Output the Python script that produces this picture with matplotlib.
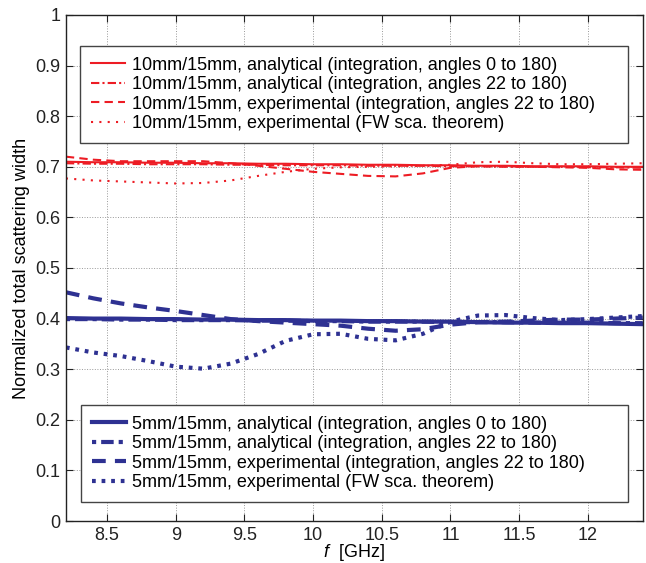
import matplotlib
matplotlib.use("Agg")
import matplotlib.pyplot as plt

plt.rcParams['font.family'] = ['Liberation Sans', 'DejaVu Sans']
plt.rcParams['mathtext.fontset'] = 'custom'
plt.rcParams['mathtext.it'] = 'Liberation Sans:italic'
plt.rcParams['mathtext.rm'] = 'Liberation Sans'

# frecuencias [GHz]
f = [8.2, 8.4, 8.6, 8.8, 9.0, 9.2, 9.4, 9.6, 9.8, 10.0, 10.2,
     10.4, 10.6, 10.8, 11.0, 11.2, 11.4, 11.6, 11.8, 12.0, 12.2, 12.4]

# 10mm/15mm
r_an_0 = [0.710, 0.709, 0.709, 0.708, 0.708, 0.707, 0.707, 0.706, 0.706, 0.705, 0.705,
          0.704, 0.704, 0.703, 0.703, 0.702, 0.702, 0.701, 0.701, 0.701, 0.700, 0.700]
r_an_22 = [0.707, 0.706, 0.706, 0.705, 0.705, 0.705, 0.704, 0.704, 0.703, 0.703, 0.703,
           0.702, 0.702, 0.702, 0.701, 0.701, 0.700, 0.700, 0.700, 0.699, 0.699, 0.698]
r_exp_int = [0.720, 0.714, 0.711, 0.711, 0.711, 0.711, 0.707, 0.702, 0.696, 0.690, 0.686,
             0.682, 0.681, 0.687, 0.698, 0.701, 0.701, 0.700, 0.699, 0.698, 0.695, 0.694]
r_exp_fw = [0.677, 0.673, 0.671, 0.669, 0.667, 0.668, 0.673, 0.682, 0.690, 0.696, 0.699,
            0.700, 0.701, 0.702, 0.704, 0.709, 0.710, 0.707, 0.705, 0.705, 0.706, 0.707]

# 5mm/15mm
b_an_0 = [0.401, 0.400, 0.400, 0.399, 0.399, 0.398, 0.398, 0.397, 0.397, 0.396, 0.396,
          0.395, 0.395, 0.394, 0.394, 0.393, 0.392, 0.392, 0.391, 0.391, 0.390, 0.389]
b_an_22 = [0.399, 0.399, 0.398, 0.398, 0.397, 0.397, 0.397, 0.396, 0.396, 0.395, 0.395,
           0.394, 0.394, 0.394, 0.393, 0.393, 0.393, 0.392, 0.392, 0.392, 0.391, 0.391]
b_exp_int = [0.452, 0.440, 0.430, 0.422, 0.415, 0.407, 0.399, 0.395, 0.392, 0.389, 0.386,
             0.380, 0.376, 0.379, 0.388, 0.393, 0.394, 0.396, 0.398, 0.398, 0.400, 0.402]
b_exp_fw = [0.343, 0.333, 0.326, 0.316, 0.305, 0.301, 0.311, 0.330, 0.356, 0.369, 0.370,
            0.360, 0.357, 0.370, 0.394, 0.406, 0.407, 0.401, 0.397, 0.399, 0.402, 0.405]

etiquetas_r = ["10mm/15mm, analytical (integration, angles 0 to 180)",
               "10mm/15mm, analytical (integration, angles 22 to 180)",
               "10mm/15mm, experimental (integration, angles 22 to 180)",
               "10mm/15mm, experimental (FW sca. theorem)"]
etiquetas_b = ["5mm/15mm, analytical (integration, angles 0 to 180)",
               "5mm/15mm, analytical (integration, angles 22 to 180)",
               "5mm/15mm, experimental (integration, angles 22 to 180)",
               "5mm/15mm, experimental (FW sca. theorem)"]

rojo = '#ed1c24'
azul = '#2e3192'
FS = 13

fig = plt.figure(figsize=(6.46, 5.63), dpi=100)
ax = fig.add_axes([0.102, 0.0746, 0.893, 0.8988])

estilos_r = ['-', (0, (4, 1.5, 1, 1.5)), (0, (4, 2.5)), (0, (1, 3))]
lineas_r = []
for y, ls, lab in zip([r_an_0, r_an_22, r_exp_int, r_exp_fw], estilos_r, etiquetas_r):
    l, = ax.plot(f, y, color=rojo, lw=1.5, ls=ls, label=lab)
    lineas_r.append(l)

estilos_b = ['-', (0, (1, 1.2, 3, 1.2)), (0, (3.3, 2.2)), (0, (0.9, 1.4))]
lineas_b = []
for y, ls, lab in zip([b_an_0, b_an_22, b_exp_int, b_exp_fw], estilos_b, etiquetas_b):
    l, = ax.plot(f, y, color=azul, lw=3, ls=ls, label=lab)
    lineas_b.append(l)

ax.set_xlim(8.2, 12.4)
ax.set_ylim(0, 1)
ax.set_xticks([8.5, 9, 9.5, 10, 10.5, 11, 11.5, 12])
ax.set_xticklabels(['8.5', '9', '9.5', '10', '10.5', '11', '11.5', '12'])
ax.set_yticks([i / 10 for i in range(11)])
ax.set_yticklabels(['0', '0.1', '0.2', '0.3', '0.4', '0.5', '0.6', '0.7', '0.8', '0.9', '1'])
ax.tick_params(direction='in', length=5, top=True, right=True, labelsize=FS,
               colors='#222222', pad=4)
ax.grid(True, ls=':', color='#999999', lw=0.7)
for s in ax.spines.values():
    s.set_linewidth(1.0)
    s.set_color('#222222')

ax.set_xlabel(r"$f$  [GHz]", fontsize=FS, labelpad=-1)
ax.set_ylabel("Normalized total scattering width", fontsize=FS, labelpad=4)

# leyendas estilo MATLAB (caja ancha, texto a la izquierda)
leg_kw = dict(fontsize=FS, handlelength=1.9, handletextpad=0.35, labelspacing=0.14,
              borderpad=0.6, fancybox=False, framealpha=1, edgecolor='#444444',
              borderaxespad=0, mode='expand')
leg1 = ax.legend(handles=lineas_r, loc='upper left',
                 bbox_to_anchor=(0.025, 0.76, 0.949, 0.179), **leg_kw)
leg1.get_frame().set_linewidth(1.0)
ax.add_artist(leg1)
leg2 = ax.legend(handles=lineas_b, loc='lower left',
                 bbox_to_anchor=(0.026, 0.0375, 0.949, 0.179), **leg_kw)
leg2.get_frame().set_linewidth(1.0)

fig.savefig("out.png", dpi=100)
